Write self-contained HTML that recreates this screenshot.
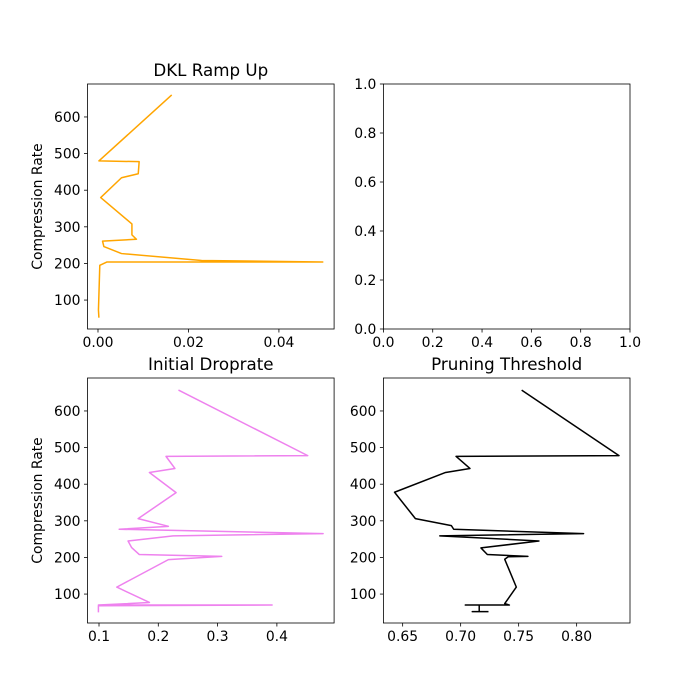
<!DOCTYPE html>
<html><head><meta charset="utf-8"><style>
body{margin:0;background:#fff}
svg{display:block;font-family:"DejaVu Sans","Liberation Sans",sans-serif}
</style></head><body>
<svg id="fig" width="700" height="700" viewBox="0 0 700 700"></svg>
<script>
// DKL Ramp Up (orange)
const dklX=[0.0163,0.0002,0.0091,0.0089,0.0052,0.0006,0.0075,0.0075,0.0085,0.001,0.0013,0.0052,0.0229,0.0497,0.002,0.0004,0.0001,0.0002];
const dklY=[660,480,478,445,434,380,308,278,266,261,246,227,208,204,204,195,73,52];
// Initial Droprate (violet)
const dropX=[0.234,0.452,0.213,0.228,0.185,0.230,0.166,0.217,0.134,0.478,0.225,0.149,0.155,0.168,0.307,0.217,0.130,0.185,0.099,0.392,0.099,0.099];
const dropY=[657,478,476,443,432,377,306,285,277,265,259,245,227,208,203,194,119,77,70,70,68,50];
// Pruning Threshold (black)
const pruneX=[0.7526,0.8365,0.696,0.708,0.687,0.643,0.661,0.692,0.694,0.806,0.682,0.7675,0.7175,0.723,0.758,0.741,0.738,0.748,0.738,0.742,0.704,0.716,0.716,0.710,0.724];
const pruneY=[657,478,476,443,432,378,306,287,277,265,259,245,226,208,203,202,195,119,74,70,70,70,52,52,52];
const yTicks=[100,200,300,400,500,600];
const dklTicks=[0.00,0.02,0.04];
const dropTicks=[0.1,0.2,0.3,0.4];
const pruneTicks=[0.65,0.70,0.75,0.80];
const emptyTicks=[0.0,0.2,0.4,0.6,0.8,1.0];

const NS="http://www.w3.org/2000/svg";
const fig=document.getElementById('fig');
function mk(tag,attrs,parent){const e=document.createElementNS(NS,tag);for(const k in attrs)e.setAttribute(k,attrs[k]);(parent||fig).appendChild(e);return e;}

function axes(o){
  const g=mk('g',{});
  
  
  const W=o.x1-o.x0,H=o.y1-o.y0;
  const sx=v=>o.x0+(v-o.xmin)/(o.xmax-o.xmin)*W;
  const sy=v=>o.y1-(v-o.ymin)/(o.ymax-o.ymin)*H;
  if(o.xs){
    const pts=o.xs.map((v,i)=>sx(v).toFixed(2)+','+sy(o.ys[i]).toFixed(2)).join(' ');
    const pl=mk('polyline',{points:pts,fill:'none',stroke:o.color,'stroke-width':1.5,'stroke-linejoin':'round'},g);
    
    
  }
  const fr=mk('rect',{x:o.x0,y:o.y0,width:W,height:H,fill:'none',stroke:'#000','stroke-width':0.8},g);
  
  
  o.xt.forEach(v=>{
    const x=sx(v);
    mk('line',{x1:x,x2:x,y1:o.y1,y2:o.y1+3.5,stroke:'#000','stroke-width':0.8},g);
    const t=mk('text',{x:x,y:o.y1+18,'font-size':13.9,'text-anchor':'middle'},g);
    t.textContent=v.toFixed(o.xd);
    
    
  });
  o.yt.forEach(v=>{
    const y=sy(v);
    mk('line',{x1:o.x0,x2:o.x0-3.5,y1:y,y2:y,stroke:'#000','stroke-width':0.8},g);
    const t=mk('text',{x:o.x0-7,y:y+5,'font-size':13.9,'text-anchor':'end'},g);
    t.textContent=v.toFixed(o.yd);
    
    
  });
  if(o.title){
    const t=mk('text',{x:o.x0+W/2,y:o.y0-8,'font-size':16.7,'text-anchor':'middle'},g);
    t.textContent=o.title;
    
    
  }
  if(o.ylabel){
    const cy=o.y0+H/2;
    const t=mk('text',{x:42,y:cy,'font-size':13.9,'text-anchor':'middle',transform:'rotate(-90 42 '+cy+')'},g);
    t.textContent=o.ylabel;
    
    
  }
}
axes({name:'dkl-ramp-up-panel',x0:87.5,x1:334.1,y0:84,y1:329,xmin:-0.00232,xmax:0.0522,ymin:21,ymax:690,xs:dklX,ys:dklY,color:'#ffa500',xt:dklTicks,xd:2,yt:yTicks,yd:0,title:'DKL Ramp Up',ylabel:'Compression Rate'});
axes({name:'empty-panel',x0:383.4,x1:630,y0:84,y1:329,xmin:0,xmax:1,ymin:0,ymax:1,xt:emptyTicks,xd:1,yt:emptyTicks,yd:1});
axes({name:'initial-droprate-panel',x0:87.5,x1:334.1,y0:378,y1:623,xmin:0.0806,xmax:0.4965,ymin:21,ymax:690,xs:dropX,ys:dropY,color:'#ee82ee',xt:dropTicks,xd:1,yt:yTicks,yd:0,title:'Initial Droprate',ylabel:'Compression Rate'});
axes({name:'pruning-threshold-panel',x0:383.4,x1:630,y0:378,y1:623,xmin:0.6334,xmax:0.846,ymin:21,ymax:690,xs:pruneX,ys:pruneY,color:'#000000',xt:pruneTicks,xd:2,yt:yTicks,yd:0,title:'Pruning Threshold'});
</script>
</body></html>
